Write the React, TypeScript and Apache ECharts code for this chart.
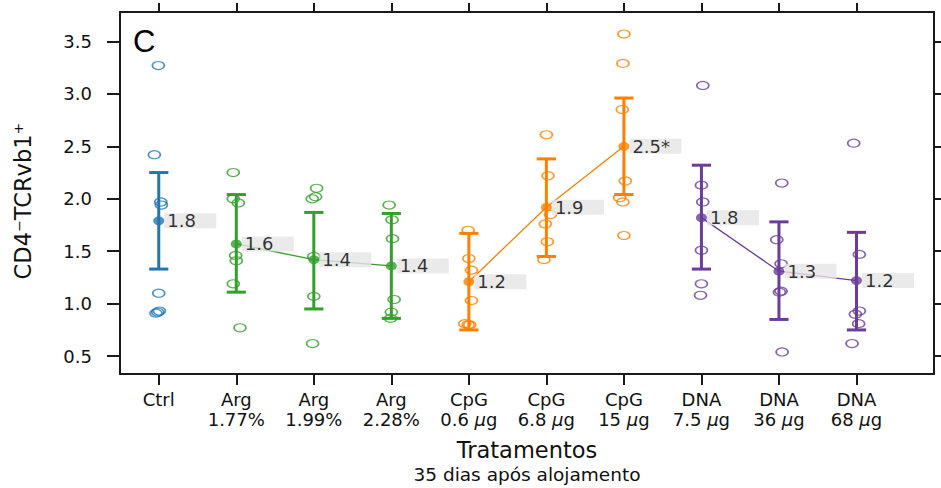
import React, { useEffect, useRef } from 'react';
import * as echarts from 'echarts';

const catTop = ['Ctrl', 'Arg', 'Arg', 'Arg', 'CpG', 'CpG', 'CpG', 'DNA', 'DNA', 'DNA'];
const catBottom = ['', '1.77%', '1.99%', '2.28%', '0.6 μg', '6.8 μg', '15 μg', '7.5 μg', '36 μg', '68 μg'];
const catGroup = [0, 1, 1, 1, 2, 2, 2, 3, 3, 3];
const groupColors = ['#1F78B4', '#33A02C', '#FF7F00', '#6A3D9A'];

const means = [1.79, 1.57, 1.42, 1.36, 1.21, 1.92, 2.5, 1.82, 1.31, 1.22];
const upper = [2.25, 2.04, 1.87, 1.86, 1.67, 2.38, 2.96, 2.32, 1.78, 1.68];
const lower = [1.33, 1.11, 0.95, 0.86, 0.75, 1.45, 2.04, 1.33, 0.85, 0.75];
const meanLabels = ['1.8', '1.6', '1.4', '1.4', '1.2', '1.9', '2.5*', '1.8', '1.3', '1.2'];

const ptsCtrl = [3.27, 2.42, 1.97, 1.94, 1.1, 0.91, 0.92, 0.93];
const jitCtrl = [-0.005, -0.057, 0.026, 0.034, 0, -0.035, -0.013, 0.008];
const ptsArg177 = [2.25, 2.0, 1.96, 1.46, 1.41, 1.19, 0.77];
const jitArg177 = [-0.039, -0.039, 0.026, -0.008, 0, -0.039, 0.048];
const ptsArg199 = [2.1, 2.0, 2.02, 1.45, 1.07, 0.62];
const jitArg199 = [0.036, -0.02, 0.023, 0, 0, -0.016];
const ptsArg228 = [1.94, 1.8, 1.62, 1.04, 0.92, 0.86];
const jitArg228 = [-0.028, 0.01, 0.015, 0.036, 0, -0.01];
const ptsCpG06 = [1.7, 1.43, 1.32, 1.03, 0.81, 0.8, 0.8];
const jitCpG06 = [-0.01, 0, 0.034, 0.034, -0.053, -0.01, 0.012];
const ptsCpG68 = [2.61, 2.22, 1.85, 1.76, 1.59, 1.42];
const jitCpG68 = [0, 0.021, 0.052, -0.013, 0.013, -0.031];
const ptsCpG15 = [3.57, 3.29, 2.85, 2.17, 2.01, 1.97, 1.65];
const jitCpG15 = [0, -0.013, -0.021, 0.018, -0.055, -0.013, 0];
const ptsDNA75 = [3.08, 2.13, 1.97, 1.51, 1.19, 1.08];
const jitDNA75 = [0.018, 0, 0.018, 0, 0, -0.012];
const ptsDNA36 = [2.15, 1.61, 1.38, 1.11, 1.12, 0.54];
const jitDNA36 = [0.036, -0.028, 0.028, 0.006, 0.028, 0.041];
const ptsDNA68 = [2.53, 1.47, 0.93, 0.9, 0.81, 0.62];
const jitDNA68 = [-0.036, 0.037, 0.037, -0.014, 0.028, -0.057];

const yTicks = [0.5, 1.0, 1.5, 2.0, 2.5, 3.0, 3.5];
const meanLinks = [[1, 2, 3], [4, 5, 6], [7, 8, 9]];

const allPts = [ptsCtrl, ptsArg177, ptsArg199, ptsArg228, ptsCpG06, ptsCpG68, ptsCpG15, ptsDNA75, ptsDNA36, ptsDNA68];
const allJit = [jitCtrl, jitArg177, jitArg199, jitArg228, jitCpG06, jitCpG68, jitCpG15, jitDNA75, jitDNA36, jitDNA68];

const FONT = 'DejaVu Sans';
const AXIS_COLOR = '#1a1a1a';

export default function App() {
  const ref = useRef<HTMLDivElement>(null);
  useEffect(() => {
    if (!ref.current) return;
    const chart = echarts.init(ref.current, undefined, { renderer: 'svg' });
    const catIdx = catTop.map((_, i) => i);

    const pointData: any[] = [];
    allPts.forEach((arr, ci) => {
      arr.forEach((v, k) => {
        pointData.push({
          value: [ci + allJit[ci][k], v],
          itemStyle: { borderColor: groupColors[catGroup[ci]] },
        });
      });
    });

    const lineSeries = meanLinks.map((idxs) => ({
      type: 'line',
      data: idxs.map((i) => [i, means[i]]),
      symbol: 'none',
      lineStyle: { color: groupColors[catGroup[idxs[0]]], width: 1.3 },
      z: 3,
      silent: true,
    }));

    const option: any = {
      animation: false,
      grid: { left: 120, right: 7, top: 12, bottom: 114, containLabel: false, outerBoundsMode: 'none' },
      xAxis: [
        {
          type: 'value',
          position: 'bottom',
          min: -0.5,
          max: 10,
          splitLine: { show: false },
          axisLine: { show: true, onZero: false, lineStyle: { color: AXIS_COLOR, width: 2 } },
          axisTick: { show: true, customValues: catIdx, length: 11, lineStyle: { color: AXIS_COLOR, width: 2 } },
          axisLabel: {
            show: true,
            customValues: catIdx,
            margin: 16,
            fontSize: 18,
            lineHeight: 19.5,
            color: '#111',
            fontFamily: FONT,
            formatter: (v: number) => {
              const i = Math.round(v);
              return catTop[i] + '\n' + catBottom[i].replace('μ', '{i|μ}');
            },
            rich: { i: { fontStyle: 'italic', fontSize: 18, fontFamily: FONT, color: '#111', lineHeight: 19.5 } },
          },
          name: '{a|Tratamentos}\n{b|35 dias após alojamento}',
          nameLocation: 'middle',
          nameGap: 63,
          nameTextStyle: {
            color: '#111',
            fontFamily: FONT,
            rich: {
              a: { fontSize: 22.5, fontFamily: FONT, color: '#111', lineHeight: 26.5 },
              b: { fontSize: 18.5, fontFamily: FONT, color: '#111', lineHeight: 21.5 },
            },
          },
        },
        {
          type: 'value',
          position: 'top',
          min: -0.5,
          max: 10,
          splitLine: { show: false },
          axisLine: { show: true, onZero: false, lineStyle: { color: AXIS_COLOR, width: 2 } },
          axisTick: { show: true, customValues: catIdx, length: 9, lineStyle: { color: AXIS_COLOR, width: 2 } },
          axisLabel: { show: false },
        },
      ],
      yAxis: [
        {
          type: 'value',
          position: 'left',
          min: 0.33,
          max: 3.78,
          splitLine: { show: false },
          axisLine: { show: true, onZero: false, lineStyle: { color: AXIS_COLOR, width: 2 } },
          axisTick: { show: true, customValues: yTicks, length: 13, lineStyle: { color: AXIS_COLOR, width: 2 } },
          axisLabel: {
            show: true,
            customValues: yTicks,
            margin: 28,
            fontSize: 18,
            color: '#111',
            fontFamily: FONT,
            formatter: (v: number) => v.toFixed(1),
          },
          name: 'CD4⁻TCRvb1⁺',
          nameLocation: 'middle',
          nameGap: 86,
          nameTextStyle: { fontSize: 22.5, fontFamily: FONT, color: '#111', padding: [0, 16, 0, 0] },
        },
        {
          type: 'value',
          position: 'right',
          min: 0.33,
          max: 3.78,
          splitLine: { show: false },
          axisLine: { show: true, onZero: false, lineStyle: { color: AXIS_COLOR, width: 2 } },
          axisTick: { show: true, customValues: yTicks, length: 8, lineStyle: { color: AXIS_COLOR, width: 2 } },
          axisLabel: { show: false },
        },
      ],
      graphic: [
        {
          type: 'text',
          left: 133,
          top: 26,
          style: { text: 'C', fontSize: 31, fontFamily: 'Liberation Sans', fill: '#000' },
        },
      ],
      series: [
        {
          type: 'scatter',
          data: pointData,
          symbol: 'circle',
          symbolSize: [12, 8],
          itemStyle: { color: 'rgba(0,0,0,0)', borderWidth: 1.4 },
          z: 2,
          silent: true,
        },
        ...lineSeries,
        {
          type: 'custom',
          z: 4,
          silent: true,
          data: catIdx.map((i) => [i, lower[i], upper[i], catGroup[i]]),
          renderItem: (params: any, api: any) => {
            const x = api.value(0);
            const lo = api.coord([x, api.value(1)]);
            const hi = api.coord([x, api.value(2)]);
            const color = groupColors[api.value(3)];
            const half = 9.6;
            const st = { stroke: color, lineWidth: 3 };
            return {
              type: 'group',
              children: [
                { type: 'line', shape: { x1: lo[0], y1: lo[1], x2: hi[0], y2: hi[1] }, style: st },
                { type: 'line', shape: { x1: lo[0] - half, y1: lo[1], x2: lo[0] + half, y2: lo[1] }, style: st },
                { type: 'line', shape: { x1: hi[0] - half, y1: hi[1], x2: hi[0] + half, y2: hi[1] }, style: st },
              ],
            };
          },
        },
        {
          type: 'scatter',
          z: 6,
          silent: true,
          symbol: 'circle',
          symbolSize: [11, 9],
          data: catIdx.map((i) => ({
            value: [i, means[i]],
            itemStyle: { color: groupColors[catGroup[i]] },
            label: { formatter: meanLabels[i] },
          })),
          label: {
            show: true,
            position: 'right',
            distance: 0,
            backgroundColor: '#e5e5e5',
            width: 47,
            padding: [1, 2, 0, 3],
            lineHeight: 14,
            fontSize: 18,
            fontFamily: FONT,
            color: '#000',
            align: 'left',
          },
        },
      ],
    };
    chart.setOption(option);
    return () => chart.dispose();
  }, []);
  return (
    <div
      ref={ref}
      style={{ position: 'fixed', left: 0, top: 0, width: 941, height: 488, background: '#fff' }}
    />
  );
}
